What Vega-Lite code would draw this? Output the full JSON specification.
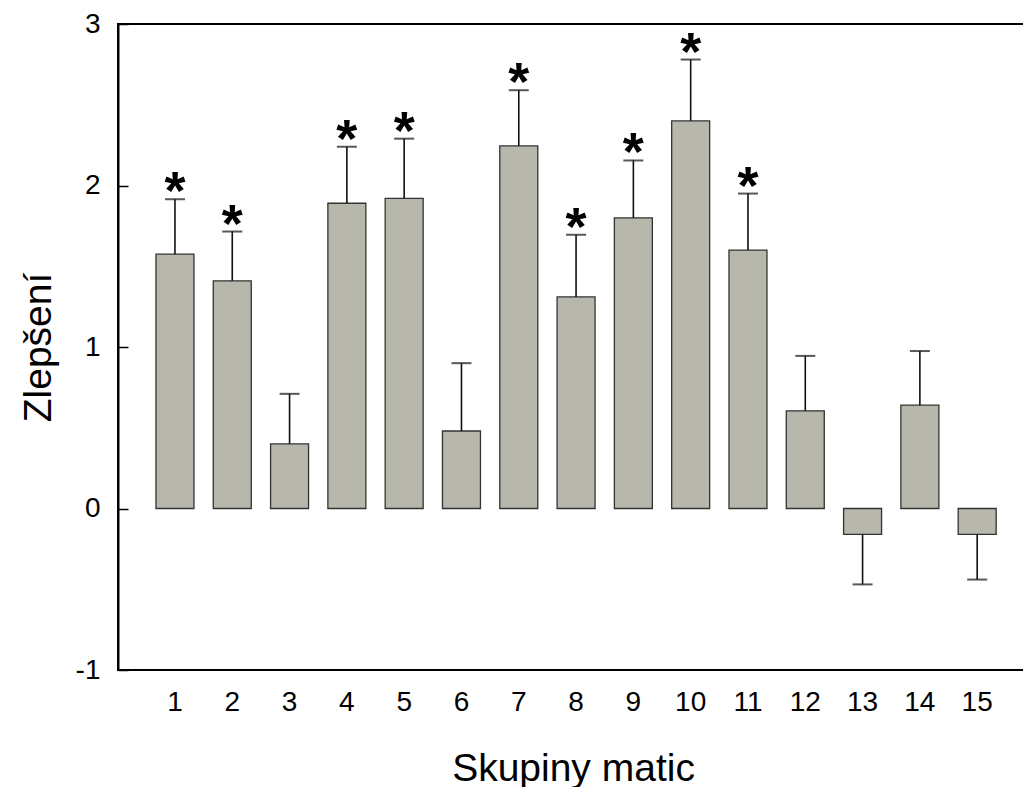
{
  "$schema": "https://vega.github.io/schema/vega-lite/v6.json",
  "width": 910,
  "height": 646,
  "autosize": {"type": "none"},
  "padding": {"left": 118, "top": 24, "right": 0, "bottom": 117},
  "config": {
    "font": "Liberation Sans",
    "view": {"stroke": "black", "strokeWidth": 2}
  },
  "data": {
    "values": [
      {"g": 1, "m": 1.575, "e": 1.915, "sig": "*"},
      {"g": 2, "m": 1.41, "e": 1.715, "sig": "*"},
      {"g": 3, "m": 0.40, "e": 0.71, "sig": ""},
      {"g": 4, "m": 1.89, "e": 2.24, "sig": "*"},
      {"g": 5, "m": 1.92, "e": 2.29, "sig": "*"},
      {"g": 6, "m": 0.48, "e": 0.90, "sig": ""},
      {"g": 7, "m": 2.245, "e": 2.59, "sig": "*"},
      {"g": 8, "m": 1.31, "e": 1.695, "sig": "*"},
      {"g": 9, "m": 1.80, "e": 2.155, "sig": "*"},
      {"g": 10, "m": 2.40, "e": 2.78, "sig": "*"},
      {"g": 11, "m": 1.60, "e": 1.95, "sig": "*"},
      {"g": 12, "m": 0.605, "e": 0.945, "sig": ""},
      {"g": 13, "m": -0.16, "e": -0.47, "sig": ""},
      {"g": 14, "m": 0.64, "e": 0.975, "sig": ""},
      {"g": 15, "m": -0.16, "e": -0.44, "sig": ""}
    ]
  },
  "encoding": {
    "x": {
      "field": "g",
      "type": "ordinal",
      "scale": {"paddingInner": 0.337, "paddingOuter": 0.609, "align": 0.544},
      "axis": {
        "title": "Skupiny matic",
        "titleFontSize": 39,
        "titleFontWeight": "normal",
        "titleColor": "black",
        "titlePadding": 33,
        "labelFontSize": 28,
        "labelColor": "black",
        "labelAngle": 0,
        "labelPadding": 18,
        "ticks": false,
        "domain": false
      }
    }
  },
  "layer": [
    {
      "mark": {"type": "bar", "fill": "#b7b7ab", "stroke": "#333333", "strokeWidth": 1.3},
      "encoding": {
        "y": {
          "field": "m",
          "type": "quantitative",
          "scale": {"domain": [-1, 3], "nice": false, "zero": false},
          "axis": {
            "title": "Zlepšení",
            "titleFontSize": 39,
            "titleFontWeight": "normal",
            "titleColor": "black",
            "titlePadding": 17,
            "values": [-1, 0, 1, 2, 3],
            "labelExpr": "'' + datum.value",
            "labelFontSize": 28,
            "labelColor": "black",
            "labelPadding": 28,
            "tickSize": -10,
            "tickColor": "black",
            "tickWidth": 1.5,
            "domainColor": "black",
            "domainWidth": 2,
            "grid": false
          }
        }
      }
    },
    {
      "mark": {"type": "rule", "color": "#111111", "strokeWidth": 1.6},
      "encoding": {
        "y": {"field": "m", "type": "quantitative"},
        "y2": {"field": "e"}
      }
    },
    {
      "mark": {"type": "tick", "color": "#111111", "thickness": 2, "size": 20},
      "encoding": {
        "y": {"field": "e", "type": "quantitative"}
      }
    },
    {
      "mark": {"type": "text", "fontSize": 54, "fontWeight": "bold", "color": "black", "baseline": "alphabetic", "dy": 10},
      "encoding": {
        "y": {"field": "e", "type": "quantitative"},
        "text": {"field": "sig"}
      }
    },
    {
      "mark": {"type": "rule", "color": "black", "strokeWidth": 2},
      "encoding": {
        "y": {"datum": 0, "type": "quantitative"}
      }
    }
  ]
}
